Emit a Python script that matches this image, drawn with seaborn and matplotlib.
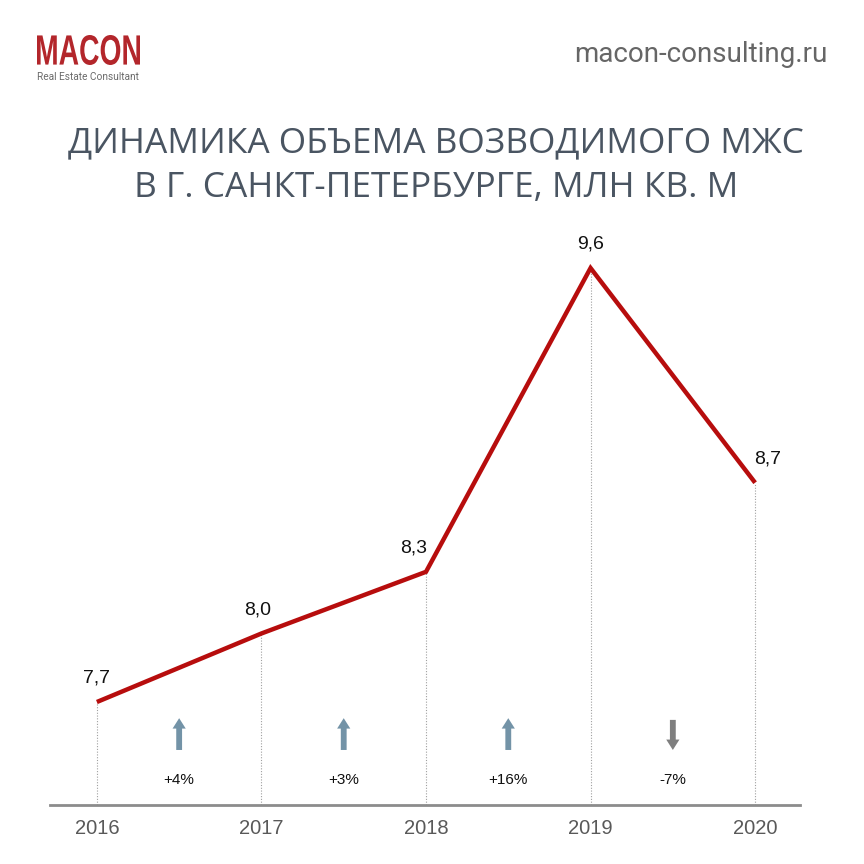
import matplotlib
matplotlib.use("Agg")
import matplotlib.pyplot as plt
import seaborn as sns
import pandas as pd
from matplotlib.textpath import TextPath
from matplotlib.patches import PathPatch
from matplotlib.font_manager import FontProperties
from matplotlib.transforms import Affine2D, IdentityTransform

years = [2016, 2017, 2018, 2019, 2020]
values = [7.7, 8.0, 8.27, 9.6, 8.66]
value_labels = ["7,7", "8,0", "8,3", "9,6", "8,7"]
changes = ["+4%", "+3%", "+16%", "-7%"]
title_lines = ["ДИНАМИКА ОБЪЕМА ВОЗВОДИМОГО МЖС", "В Г. САНКТ-ПЕТЕРБУРГЕ, МЛН КВ. М"]
site = "macon-consulting.ru"
logo = "MACON"
logo_sub = "Real Estate Consultant"

# label offsets (points) – styling only
label_dx = [0, -3, -9, 0, 9]
label_dy = [11, 11, 11, 11, 11]

sns.set_style("white")
plt.rcParams['font.family'] = ['Liberation Sans', 'DejaVu Sans']

W = H = 864
fig = plt.figure(figsize=(8.64, 8.64), dpi=100)
fig.patch.set_facecolor("white")

x_l, x_r, y_t, y_b = 50, 800, 230, 805
ax = fig.add_axes([x_l / W, 1 - y_b / H, (x_r - x_l) / W, (y_b - y_t) / H])
ax.set_facecolor("none")

df = pd.DataFrame({"year": years, "value": values})
sns.lineplot(data=df, x="year", y="value", ax=ax, color="#b70d0d", linewidth=3.2,
             solid_joinstyle="miter", solid_capstyle="butt", zorder=5)

px_per_unit = 228.4
ax.set_ylim(7.7 - 103 / px_per_unit, 7.7 + 472 / px_per_unit)
ax.set_xlim(2016 - 47 / 165, 2020 + 45 / 165)

ymin = ax.get_ylim()[0]
for yr, v, lab, dx, dy in zip(years, values, value_labels, label_dx, label_dy):
    ax.plot([yr, yr], [ymin, v], color="#a0a0a0", linestyle=(0, (1, 1.5)), linewidth=0.8, zorder=2)
    ax.annotate(lab, (yr, v), xytext=(dx, dy), textcoords="offset points", ha="center",
                va="bottom", fontsize=14, color="#111111", annotation_clip=False)

for i, ch in enumerate(changes):
    xm = years[i] + 0.5
    up = not ch.startswith("-")
    color = "#7393a7" if up else "#7f7f7f"
    if up:
        tail, head = 0.0957, 0.151
    else:
        tail, head = 0.148, 0.0957
    ax.annotate("", xy=(xm, head), xytext=(xm, tail), xycoords=("data", "axes fraction"),
                textcoords=("data", "axes fraction"),
                arrowprops=dict(arrowstyle="simple,head_length=0.75,head_width=0.95,tail_width=0.42",
                                mutation_scale=10, color=color, shrinkA=0, shrinkB=0, lw=0))
    ax.text(xm, 0.0435, ch, transform=ax.get_xaxis_transform(), ha="center", va="center",
            fontsize=11, color="#111111")

for s in ["left", "right", "top"]:
    ax.spines[s].set_visible(False)
ax.spines["bottom"].set_color("#8c8c8c")
ax.spines["bottom"].set_linewidth(2)
ax.set_yticks([])
ax.set_xticks(years)
ax.set_xticklabels([str(y) for y in years], fontsize=14.5, color="#595959")
ax.tick_params(axis="x", length=0, pad=10)
ax.set_xlabel("")
ax.set_ylabel("")

for ln, yc in zip(title_lines, [143, 188]):
    fig.text(436 / W, 1 - yc / H, ln, ha="center", va="center", fontsize=25.4,
             color="#4a5562", family=["Open Sans", "DejaVu Sans"])

fig.text(828 / W, 1 - 54 / H, site, ha="right", va="center", fontsize=20,
         color="#666666", family=["Roboto", "DejaVu Sans"])

tp = TextPath((0, 0), logo, size=1, prop=FontProperties(family="Liberation Sans", weight="bold"))
ext = tp.get_extents()
sx = 103 / ext.width
sy = 30 / ext.height
tr = Affine2D().translate(-ext.x0, -ext.y0).scale(sx, sy).translate(37, H - 65)
patch = PathPatch(tr.transform_path(tp), facecolor="#b3262b", edgecolor="none",
                  transform=IdentityTransform())
fig.add_artist(patch)
fig.text(37 / W, 1 - 77 / H, logo_sub, ha="left", va="center", fontsize=7.3,
         color="#6b6b6b", family=["Roboto", "DejaVu Sans"])

fig.savefig("out.png", dpi=100)
